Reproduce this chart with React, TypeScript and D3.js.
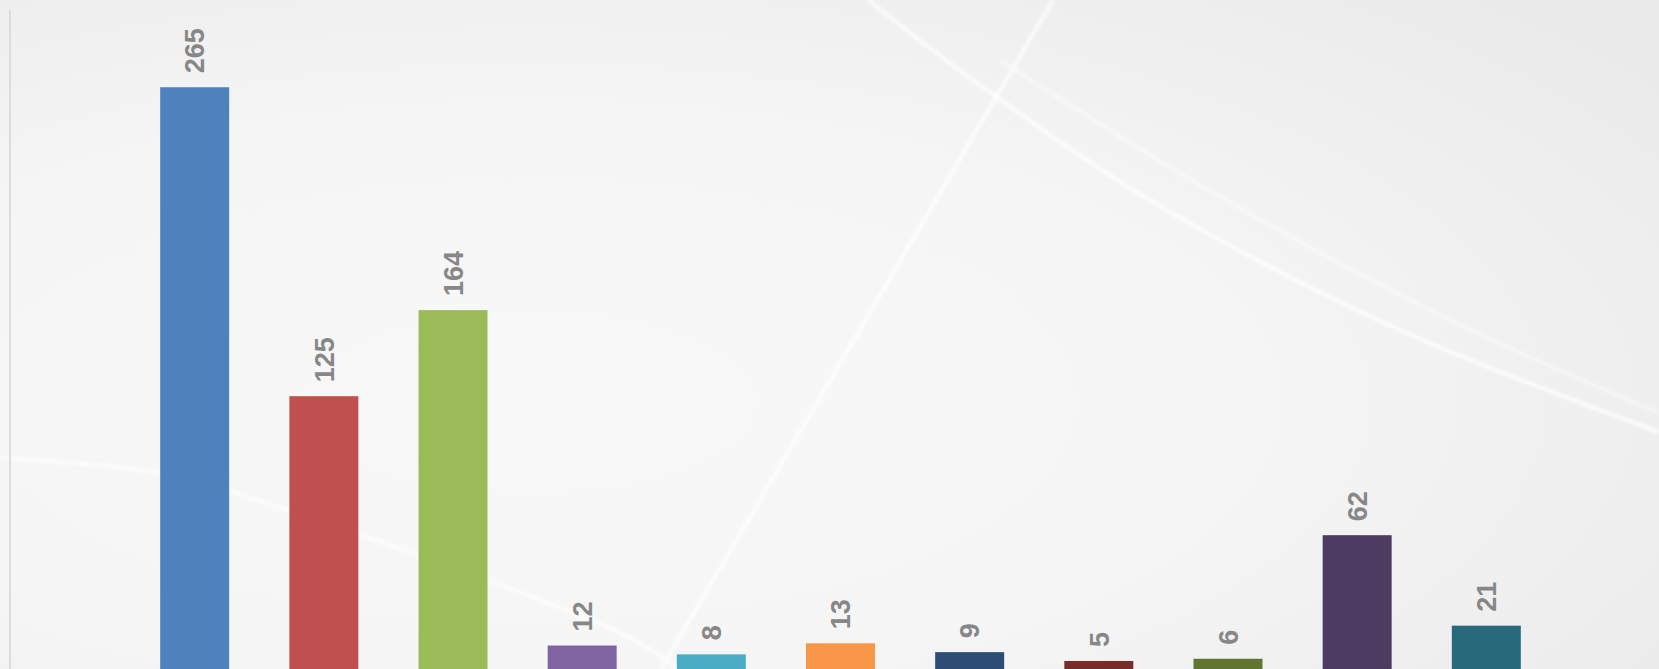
import React from "react";
import * as d3 from "d3";

const categories = ["A", "B", "C", "D", "E", "F", "G", "H", "I", "J", "K"];
const values = [265, 125, 164, 12, 8, 13, 9, 5, 6, 62, 21];
const colors = [
  "#4F81BD", "#C0504D", "#9BBB59", "#8064A2", "#4BACC6", "#F79646",
  "#2C4D75", "#772C2A", "#5F7530", "#4D3B62", "#276A7C",
];
const yDomainMax = 300;

const W = 1659;
const H = 669;

export default function App() {
  const x = d3
    .scaleBand<string>()
    .domain(categories)
    .range([100, 1581])
    .paddingInner(0.466)
    .paddingOuter(0.466);
  const y = d3.scaleLinear().domain([0, yDomainMax]).range([672, 10]);

  const curve = d3.line<[number, number]>().curve(d3.curveCatmullRom);

  return (
    <svg
      width={W}
      height={H}
      style={{ position: "absolute", left: 0, top: 0, display: "block" }}
    >
      <defs>
        <radialGradient id="bg" cx="0.32" cy="0.6" r="0.85">
          <stop offset="0" stopColor="#f8f8f8" />
          <stop offset="0.5" stopColor="#f5f5f5" />
          <stop offset="1" stopColor="#eaeaea" />
        </radialGradient>
        <filter id="soft" x="-5%" y="-5%" width="110%" height="110%">
          <feGaussianBlur stdDeviation="1.4" />
        </filter>
      </defs>
      <rect x={0} y={0} width={W} height={H} fill="url(#bg)" />
      <g fill="none" stroke="#ffffff" strokeWidth={4} filter="url(#soft)">
        <path
          d={
            curve([
              [868, 0],
              [977, 83],
              [1150, 200],
              [1400, 330],
              [1659, 432],
            ]) || ""
          }
          strokeOpacity={0.75}
        />
        <path
          d={
            curve([
              [1000, 60],
              [1200, 185],
              [1450, 320],
              [1659, 413],
            ]) || ""
          }
          strokeOpacity={0.4}
        />
        <path d="M1053,0 L661,669" strokeOpacity={0.7} />
        <path
          d={
            curve([
              [0, 458],
              [160, 473],
              [287, 510],
              [620, 633],
              [680, 669],
            ]) || ""
          }
          strokeOpacity={0.65}
        />
      </g>
      <line x1={10} x2={10} y1={10} y2={H} stroke="#dcdcdc" strokeWidth={2} />
      {categories.map((c, i) => (
        <rect
          key={c}
          x={x(c)}
          y={y(values[i])}
          width={x.bandwidth()}
          height={y(0) - y(values[i])}
          fill={colors[i]}
        />
      ))}
      {categories.map((c, i) => {
        const cx = (x(c) as number) + x.bandwidth() / 2;
        const cy = y(values[i]) - 14;
        return (
          <text
            key={c}
            transform={`translate(${cx},${cy}) rotate(-90)`}
            dy="0.36em"
            textAnchor="start"
            fontFamily="'Liberation Sans', Arial, sans-serif"
            fontWeight="bold"
            fontSize={27}
            fill="#878787"
          >
            {values[i]}
          </text>
        );
      })}
    </svg>
  );
}
